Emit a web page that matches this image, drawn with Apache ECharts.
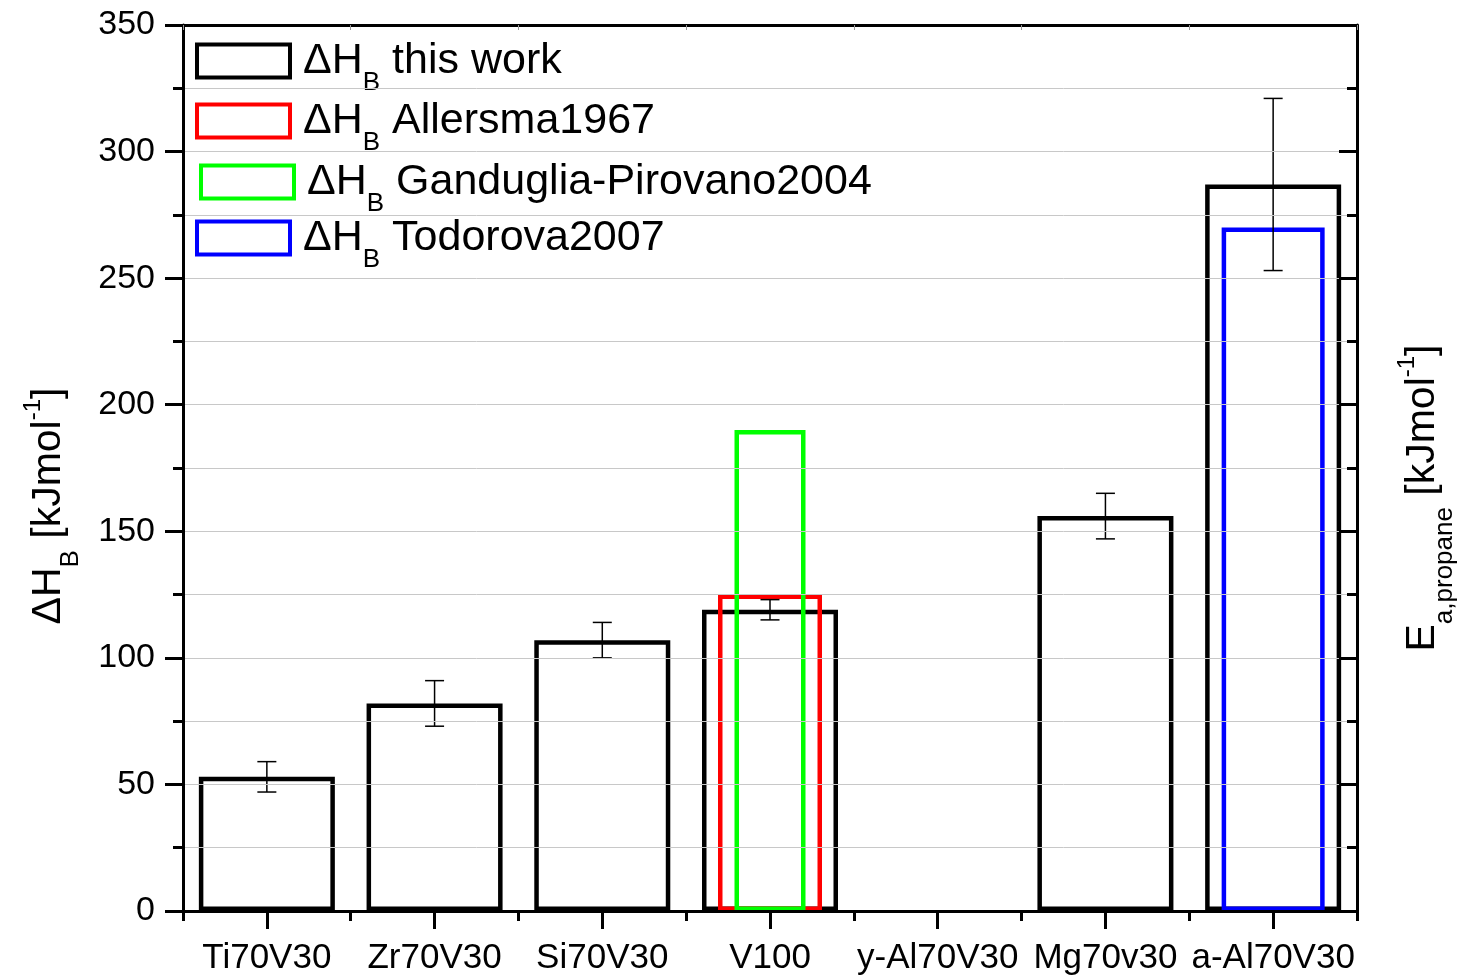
<!DOCTYPE html>
<html><head><meta charset="utf-8">
<script src="https://cdn.jsdelivr.net/npm/echarts@6/dist/echarts.min.js"></script>
<style>html,body{margin:0;padding:0;background:#fff}#c{width:1460px;height:977px}</style>
</head><body><div id="c"></div>
<script>
const categories = ['Ti70V30', 'Zr70V30', 'Si70V30', 'V100', 'y-Al70V30', 'Mg70v30', 'a-Al70V30'];
const thisWork = [53, 82, 107, 119, null, 156, 287];
const thisWorkErr = [6, 9, 7, 4, null, 9, 34];
const allersma1967 = [null, null, null, 125, null, null, null];
const ganduglia2004 = [null, null, null, 190, null, null, null];
const todorova2007 = [null, null, null, null, null, null, 270];
const yMin = 0, yMax = 350, yStep = 50;
const seriesNames = ['this work', 'Allersma1967', 'Ganduglia-Pirovano2004', 'Todorova2007'];

const FONT = '"Liberation Sans", Arial, sans-serif';
const errData = categories.map((c, i) =>
  (thisWork[i] != null && thisWorkErr[i] != null) ? [i, thisWork[i] - thisWorkErr[i], thisWork[i] + thisWorkErr[i]] : null
).filter(Boolean);

const legendRich = {
  f: {fontFamily: FONT, fontSize: 43, lineHeight: 43, color: '#000', padding: [0, 0, 0, 8]},
  a: {fontFamily: FONT, fontSize: 43, lineHeight: 43, color: '#000'},
  b: {fontFamily: FONT, fontSize: 26, lineHeight: 26, color: '#000', padding: [44, 0, 0, 0]}
};
function legendFmt(name) { return '{f|ΔH}{b|B}{a| ' + name + '}'; }
function mkLegend(name, left, top) {
  return {
    data: [name], left: left, top: top, padding: 0, icon: 'rect',
    itemWidth: 93, itemHeight: 33, selectedMode: false,
    itemStyle: {borderWidth: 4},
    formatter: legendFmt, textStyle: {rich: legendRich}
  };
}

const titleRich = {
  a: {fontFamily: FONT, fontSize: 41, lineHeight: 41, color: '#000'},
  b: {fontFamily: FONT, fontSize: 26, lineHeight: 26, color: '#000', padding: [44, 0, 0, 0]},
  c: {fontFamily: FONT, fontSize: 24, lineHeight: 24, color: '#000', padding: [0, 0, 30, 0]}
};

const hiddenX = () => ({type: 'category', data: categories, show: false, gridIndex: 0});

const chart = echarts.init(document.getElementById('c'), null, {renderer: 'canvas'});
chart.setOption({
  backgroundColor: '#fff',
  animation: false,
  grid: {left: 183, right: 103, top: 25, bottom: 66, containLabel: false, outerBoundsMode: 'none'},
  legend: [
    mkLegend(seriesNames[0], 195, 26),
    mkLegend(seriesNames[1], 195, 86),
    mkLegend(seriesNames[2], 199, 147),
    mkLegend(seriesNames[3], 195, 203)
  ],
  xAxis: [
    {type: 'category', data: categories, position: 'bottom', z: 10,
     axisLine: {show: true, lineStyle: {color: '#000', width: 3}},
     axisTick: {show: true, interval: 0, alignWithLabel: true, length: 18, lineStyle: {color: '#000', width: 3}},
     axisLabel: {show: true, interval: 0, fontFamily: FONT, fontSize: 35, color: '#000', margin: 30}},
    {type: 'category', data: categories, position: 'bottom', z: 10,
     axisLine: {show: false},
     axisTick: {show: true, interval: 0, length: 10, lineStyle: {color: '#000', width: 3}},
     axisLabel: {show: false}},
    {type: 'category', data: categories, position: 'top', z: 10,
     axisLine: {show: true, lineStyle: {color: '#000', width: 3}},
     axisTick: {show: true, interval: 0, inside: true, length: 5, lineStyle: {color: '#999', width: 1}},
     axisLabel: {show: false}},
    hiddenX(), hiddenX(), hiddenX()
  ],
  yAxis: [
    {type: 'value', min: yMin, max: yMax, interval: yStep, position: 'left', z: 10,
     axisLine: {show: true, lineStyle: {color: '#000', width: 3}},
     axisTick: {show: true, length: 18, lineStyle: {color: '#000', width: 3}},
     minorTick: {show: true, splitNumber: 2, length: 10, lineStyle: {color: '#000', width: 3}},
     splitLine: {show: true, lineStyle: {color: '#c8c8c8', width: 1}},
     minorSplitLine: {show: true, lineStyle: {color: '#c8c8c8', width: 1}},
     axisLabel: {fontFamily: FONT, fontSize: 34, color: '#000', margin: 28},
     name: '{a|ΔH}{b|B}{a| [kJmol}{c|-1}{a|]}',
     nameLocation: 'middle', nameRotate: 90, nameGap: 114,
     nameTextStyle: {rich: titleRich, padding: [0, 76, 0, 0]}},
    {type: 'value', min: yMin, max: yMax, interval: yStep, position: 'right', z: 10,
     axisLine: {show: true, lineStyle: {color: '#000', width: 3}},
     axisTick: {show: true, inside: true, length: 18, lineStyle: {color: '#000', width: 3}},
     minorTick: {show: true, splitNumber: 2, length: 10, lineStyle: {color: '#000', width: 3}},
     splitLine: {show: false},
     axisLabel: {show: false},
     name: '{a|E}{b|a,propane}{a| [kJmol}{c|-1}{a|]}',
     nameLocation: 'middle', nameRotate: 90, nameGap: 45,
     nameTextStyle: {rich: titleRich, padding: [0, 60, 0, 0]}}
  ],
  series: [
    {name: seriesNames[0], type: 'bar', xAxisIndex: 0, yAxisIndex: 0, barWidth: 136, z: 2,
     itemStyle: {color: 'rgba(0,0,0,0)', borderColor: '#000', borderWidth: 4.5}, data: thisWork},
    {name: seriesNames[1], type: 'bar', xAxisIndex: 3, yAxisIndex: 0, barWidth: 104, z: 3,
     itemStyle: {color: 'rgba(0,0,0,0)', borderColor: '#ff0000', borderWidth: 4.5}, data: allersma1967},
    {name: seriesNames[2], type: 'bar', xAxisIndex: 4, yAxisIndex: 0, barWidth: 71, z: 4,
     itemStyle: {color: 'rgba(0,0,0,0)', borderColor: '#00ff00', borderWidth: 4.5}, data: ganduglia2004},
    {name: seriesNames[3], type: 'bar', xAxisIndex: 5, yAxisIndex: 0, barWidth: 103, z: 5,
     itemStyle: {color: 'rgba(0,0,0,0)', borderColor: '#0000ff', borderWidth: 4.5}, data: todorova2007},
    {name: 'err', type: 'custom', xAxisIndex: 0, yAxisIndex: 0, z: 6,
     encode: {x: 0, y: [1, 2]},
     renderItem: function (params, api) {
       const xi = api.value(0);
       const lo = api.coord([xi, api.value(1)]);
       const hi = api.coord([xi, api.value(2)]);
       const w = 9.5;
       const st = {stroke: '#000', lineWidth: 1.5};
       return {type: 'group', children: [
         {type: 'line', shape: {x1: lo[0], y1: lo[1], x2: hi[0], y2: hi[1]}, style: st},
         {type: 'line', shape: {x1: lo[0] - w, y1: lo[1], x2: lo[0] + w, y2: lo[1]}, style: st},
         {type: 'line', shape: {x1: hi[0] - w, y1: hi[1], x2: hi[0] + w, y2: hi[1]}, style: st}
       ]};
     },
     data: errData}
  ]
});
</script>
</body></html>
